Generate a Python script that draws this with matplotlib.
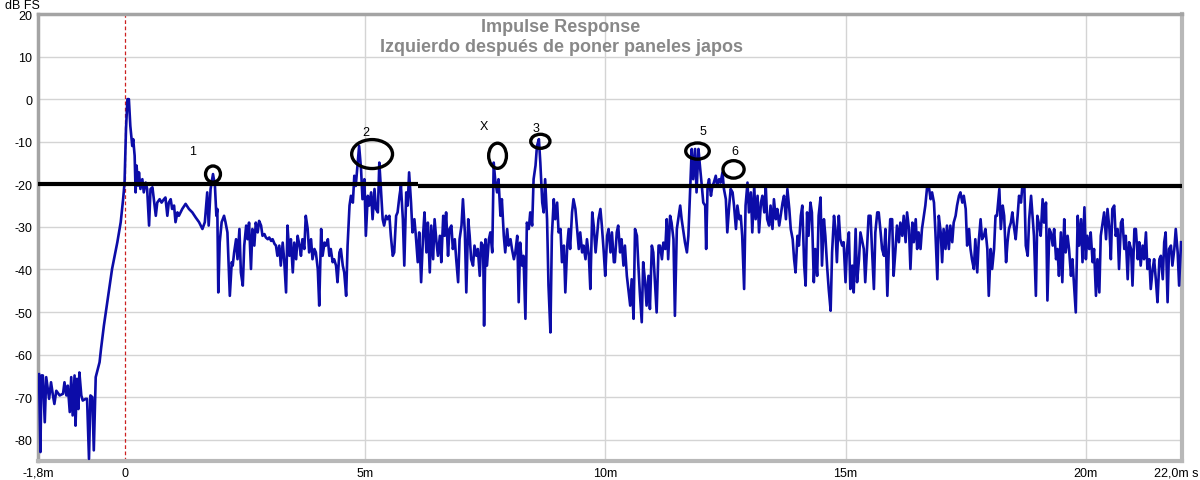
import numpy as np
import matplotlib
matplotlib.use("Agg")
import matplotlib.pyplot as plt
from matplotlib.patches import Ellipse
from matplotlib.transforms import ScaledTranslation

# ---------------- DATA ----------------
# time in ms, level in dB FS
t_early = [-1.78, -1.75, -1.73, -1.70, -1.66, -1.63, -1.57, -1.53, -1.49, -1.46,
           -1.42, -1.35, -1.28, -1.25, -1.21, -1.18, -1.14, -1.11, -1.08, -1.04,
           -1.02, -0.99, -0.96, -0.94, -0.90, -0.87, -0.81, -0.78, -0.74, -0.71,
           -0.67, -0.64, -0.61, -0.60, -0.52, -0.49, -0.43, -0.38, -0.35, -0.26,
           -0.15, -0.08, -0.03, 0.00, 0.03, 0.06, 0.09, 0.12, 0.16, 0.18,
           0.21, 0.23, 0.25, 0.28, 0.30, 0.33, 0.37, 0.40, 0.44, 0.47,
           0.51, 0.54, 0.58, 0.61, 0.65, 0.68, 0.73, 0.77, 0.82, 0.85,
           0.89, 0.92, 0.96, 0.99, 1.03, 1.06, 1.10, 1.13, 1.20, 1.27,
           1.34, 1.41, 1.48, 1.55, 1.62, 1.67, 1.72, 1.75, 1.79, 1.84,
           1.88, 1.91, 1.93, 1.95, 1.98, 2.02, 2.07, 2.10, 2.14, 2.19, 2.23]
db_early = [-64.6, -82.9, -64.9, -64.9, -75.9, -65.3, -70.4, -66.5, -69.6, -71.6,
            -68.5, -69.6, -69.2, -66.5, -69.6, -67.3, -73.5, -65.3, -74.3, -64.9,
            -76.7, -65.7, -72.8, -64.2, -69.6, -70.8, -70.4, -70.4, -84.5, -69.6,
            -70.0, -82.5, -69.6, -65.3, -61.8, -58.7, -53.2, -49.3, -46.9, -39.9,
            -33.6, -28.9, -23.5, -19.6, -7.0, 0.0, 0.0, -6.3, -11.0, -9.4,
            -13.3, -21.9, -15.6, -20.3, -17.2, -21.1, -18.8, -21.9, -19.6, -21.1,
            -29.7, -21.1, -20.7, -23.5, -27.4, -24.3, -23.5, -24.3, -23.5, -23.1,
            -27.4, -24.3, -23.5, -25.8, -25.0, -28.9, -26.6, -27.4, -25.8, -24.6,
            -25.8, -26.6, -27.8, -28.9, -30.5, -28.9, -21.9, -29.7, -21.1, -17.6,
            -20.3, -27.4, -25.8, -45.4, -33.6, -28.9, -27.4, -28.9, -31.3, -46.2, -38.3]

t_refl2 = [2.25, 2.28, 2.32, 2.35, 2.39, 2.42, 2.46, 2.49, 2.53, 2.56,
           2.59, 2.63, 2.66, 2.70, 2.73, 2.77, 2.80, 2.84, 2.87, 2.91,
           2.94, 2.98, 3.01, 3.05, 3.08, 3.12, 3.15, 3.18, 3.22, 3.25,
           3.29, 3.32, 3.36, 3.39, 3.43, 3.46, 3.50, 3.53, 3.57, 3.60,
           3.64, 3.67, 3.70, 3.74, 3.77, 3.81, 3.84, 3.88, 3.91, 3.95,
           3.98, 4.02, 4.05, 4.09, 4.12, 4.16, 4.19, 4.23, 4.26, 4.29,
           4.33, 4.36, 4.40, 4.43, 4.47, 4.50, 4.54, 4.57, 4.61, 4.64,
           4.68, 4.71, 4.75, 4.78, 4.81, 4.85, 4.88, 4.92, 4.95, 4.99,
           5.02, 5.06, 5.09, 5.13, 5.16, 5.20, 5.23, 5.27, 5.30, 5.33,
           5.37, 5.40, 5.44, 5.47, 5.51, 5.54, 5.58, 5.61, 5.65, 5.68,
           5.72, 5.75, 5.79, 5.82, 5.86, 5.89, 5.92, 5.96, 5.99, 6.03,
           6.06, 6.10, 6.13, 6.17, 6.20]
db_refl2 = [-39.1, -36.0, -32.9, -37.6, -30.5, -40.7, -43.8, -34.4, -29.7, -32.9,
            -29.0, -39.9, -30.5, -34.4, -29.0, -31.3, -28.6, -29.7, -32.1, -31.7,
            -32.5, -32.9, -32.5, -33.3, -32.9, -34.0, -34.4, -36.8, -34.4, -39.1,
            -33.7, -37.6, -45.4, -29.7, -36.8, -32.9, -40.7, -33.7, -37.6, -32.1,
            -34.4, -36.8, -32.9, -35.2, -27.4, -30.5, -36.0, -32.9, -37.6, -35.2,
            -36.0, -39.9, -48.5, -30.5, -36.8, -33.7, -34.4, -32.9, -36.8, -35.2,
            -38.3, -37.6, -39.1, -43.0, -36.0, -35.2, -39.1, -40.7, -46.2, -34.4,
            -25.0, -22.7, -24.3, -18.0, -20.4, -14.9, -11.0, -16.4, -23.5, -18.8,
            -32.1, -22.7, -25.0, -21.9, -28.2, -21.1, -25.8, -26.6, -14.9, -20.4,
            -28.2, -29.7, -27.4, -28.2, -27.4, -32.1, -36.8, -36.0, -27.4, -26.6,
            -22.7, -20.4, -28.2, -39.1, -21.9, -25.0, -17.2, -24.3, -31.3, -28.2,
            -32.1, -38.3, -31.3, -43.0, -34.4]

t_refl3 = [6.21, 6.24, 6.28, 6.31, 6.35, 6.38, 6.42, 6.45, 6.49, 6.52,
           6.56, 6.59, 6.63, 6.66, 6.69, 6.73, 6.76, 6.80, 6.83, 6.87,
           6.90, 6.94, 6.97, 7.01, 7.04, 7.08, 7.11, 7.15, 7.18, 7.21,
           7.25, 7.28, 7.32, 7.35, 7.39, 7.42, 7.46, 7.48, 7.51, 7.54,
           7.58, 7.61, 7.65, 7.68, 7.71, 7.75, 7.78, 7.82, 7.85, 7.89,
           7.92, 7.96, 7.99, 8.03, 8.06, 8.10, 8.13, 8.17, 8.20, 8.23,
           8.27, 8.30, 8.34, 8.37, 8.41, 8.44, 8.48, 8.51, 8.55, 8.58,
           8.62, 8.65, 8.69, 8.72, 8.75, 8.79, 8.82, 8.86, 8.89, 8.93,
           8.96, 9.00, 9.03, 9.07, 9.10, 9.14, 9.17, 9.21, 9.24, 9.27,
           9.31, 9.34, 9.38, 9.41, 9.45, 9.48, 9.52, 9.55, 9.59, 9.62,
           9.66, 9.69, 9.73, 9.76, 9.80, 9.83, 9.86, 9.90, 9.93, 9.97,
           10.00, 10.04, 10.07, 10.11, 10.14, 10.18]
db_refl3 = [-32.1, -26.6, -36.0, -29.0, -40.7, -29.7, -37.6, -28.2, -33.7, -36.8,
            -32.1, -38.3, -27.4, -32.1, -26.6, -36.8, -30.5, -29.7, -35.2, -32.9,
            -37.6, -43.0, -32.9, -29.7, -23.5, -31.3, -45.4, -28.2, -32.1, -37.6,
            -39.1, -34.4, -36.8, -35.2, -41.5, -33.7, -34.4, -53.2, -32.9, -39.1,
            -32.9, -31.3, -36.0, -14.9, -18.8, -21.9, -18.8, -27.4, -23.5, -32.1,
            -36.0, -30.5, -34.4, -32.9, -35.2, -37.6, -36.0, -32.1, -47.7, -33.7,
            -39.1, -36.8, -51.6, -29.0, -30.5, -26.6, -29.7, -18.8, -15.6, -11.0,
            -9.4, -14.9, -24.3, -26.6, -18.8, -28.2, -43.8, -54.8, -32.1, -23.5,
            -28.2, -24.3, -31.3, -30.5, -38.3, -34.4, -45.4, -34.4, -30.5, -35.2,
            -26.6, -23.5, -25.8, -29.7, -35.2, -31.3, -36.0, -34.4, -37.6, -32.9,
            -36.8, -44.6, -26.6, -29.7, -36.0, -32.1, -28.2, -25.8, -29.7, -36.0,
            -41.5, -32.1, -30.5, -36.0, -31.3, -38.3]

t_refl5 = [10.20, 10.24, 10.27, 10.31, 10.34, 10.38, 10.41, 10.45, 10.48, 10.52,
           10.55, 10.59, 10.62, 10.66, 10.69, 10.72, 10.76, 10.79, 10.83, 10.86,
           10.90, 10.93, 10.97, 11.00, 11.04, 11.07, 11.11, 11.14, 11.18, 11.21,
           11.25, 11.28, 11.31, 11.35, 11.38, 11.42, 11.45, 11.49, 11.52, 11.56,
           11.59, 11.63, 11.66, 11.70, 11.73, 11.77, 11.80, 11.83, 11.87, 11.90,
           11.94, 11.97, 12.01, 12.04, 12.08, 12.10, 12.13, 12.16, 12.20, 12.23,
           12.26, 12.30, 12.33, 12.37, 12.40, 12.44, 12.47, 12.51, 12.54, 12.58,
           12.61, 12.65, 12.68, 12.72, 12.75, 12.79, 12.82, 12.85, 12.89, 12.92,
           12.96, 12.99, 13.03, 13.06, 13.10, 13.13, 13.17, 13.20, 13.24, 13.27,
           13.31, 13.34, 13.37, 13.41, 13.44, 13.48, 13.51, 13.55, 13.58, 13.62,
           13.65, 13.69, 13.72, 13.76, 13.79, 13.83, 13.86, 13.90, 13.93, 13.96,
           14.00, 14.03, 14.07, 14.10, 14.14, 14.17]
db_refl5 = [-38.3, -31.3, -29.7, -36.0, -32.9, -39.1, -34.4, -41.5, -44.6, -48.5,
            -42.3, -51.6, -30.5, -32.1, -39.1, -45.4, -52.4, -38.3, -43.0, -48.5,
            -41.5, -49.3, -34.4, -36.0, -43.8, -50.1, -34.4, -34.4, -37.6, -33.7,
            -35.2, -28.2, -37.6, -27.4, -29.0, -32.9, -50.9, -30.5, -28.2, -25.0,
            -28.2, -31.3, -33.7, -36.0, -32.1, -20.4, -11.7, -18.8, -11.7, -21.9,
            -11.7, -15.6, -20.4, -24.3, -25.0, -35.2, -20.4, -18.8, -22.7, -20.4,
            -19.6, -18.0, -20.4, -18.8, -19.6, -17.2, -21.1, -23.5, -31.3, -25.0,
            -21.1, -21.9, -25.0, -30.5, -25.0, -28.2, -27.4, -32.1, -44.6, -25.0,
            -19.6, -26.6, -21.9, -31.3, -20.4, -28.2, -22.7, -31.3, -24.3, -22.7,
            -26.6, -20.4, -28.2, -29.7, -25.0, -30.5, -23.5, -28.2, -25.8, -29.7,
            -27.4, -24.3, -22.7, -28.2, -21.1, -25.8, -30.5, -32.9, -37.6, -40.7,
            -32.1, -34.4, -27.4, -25.0, -39.1, -43.8]

t_tail1 = [14.20, 14.23, 14.27, 14.30, 14.34, 14.37, 14.41, 14.44, 14.48, 14.51,
           14.55, 14.58, 14.62, 14.65, 14.69, 14.72, 14.76, 14.79, 14.82, 14.86,
           14.89, 14.93, 14.96, 15.00, 15.03, 15.07, 15.10, 15.14, 15.17, 15.21,
           15.24, 15.28, 15.31, 15.35, 15.38, 15.41, 15.45, 15.48, 15.52, 15.55,
           15.59, 15.62, 15.66, 15.69, 15.73, 15.76, 15.80, 15.83, 15.87, 15.90,
           15.93, 15.97, 16.00, 16.04, 16.07, 16.11, 16.14, 16.18, 16.21, 16.25,
           16.28, 16.32, 16.35, 16.39, 16.42, 16.46, 16.49, 16.52, 16.56, 16.59,
           16.63, 16.66, 16.70, 16.73, 16.77, 16.80, 16.84, 16.87, 16.91, 16.94,
           16.98, 17.01, 17.04, 17.08, 17.11, 17.15, 17.18, 17.22, 17.25, 17.29,
           17.32, 17.36, 17.39, 17.43, 17.46, 17.50, 17.53, 17.57, 17.60, 17.63,
           17.67, 17.70, 17.74, 17.77, 17.81, 17.84, 17.88, 17.91, 17.95, 17.98,
           18.02, 18.05, 18.09, 18.12, 18.15]
db_tail1 = [-26.6, -32.1, -24.3, -26.6, -43.0, -35.2, -41.5, -27.4, -23.1, -39.1,
            -28.2, -32.1, -39.9, -44.6, -49.7, -36.0, -27.4, -30.5, -38.3, -27.4,
            -32.9, -34.4, -33.6, -43.0, -35.2, -31.3, -44.6, -39.1, -45.4, -30.5,
            -43.0, -37.6, -31.3, -33.6, -35.2, -43.0, -34.4, -27.4, -27.4, -35.2,
            -44.6, -31.3, -26.6, -26.6, -31.3, -35.2, -36.8, -30.5, -46.2, -35.2,
            -28.2, -28.2, -41.5, -35.2, -29.7, -33.6, -29.0, -32.1, -27.4, -33.6,
            -26.6, -30.5, -39.9, -29.0, -33.6, -28.2, -35.2, -31.3, -35.2, -30.5,
            -27.4, -25.0, -20.3, -20.3, -23.5, -21.9, -24.3, -31.3, -42.3, -27.4,
            -31.3, -38.3, -30.5, -35.2, -29.7, -35.2, -29.7, -33.6, -29.0, -27.4,
            -25.0, -22.7, -21.9, -24.3, -22.7, -25.8, -34.4, -30.5, -35.2, -37.6,
            -39.9, -32.9, -40.7, -33.6, -28.2, -32.9, -32.1, -30.5, -35.2, -46.2,
            -35.2, -39.9, -35.2, -27.4, -27.4]

t_tail2 = [18.20, 18.23, 18.27, 18.30, 18.34, 18.37, 18.40, 18.44, 18.47, 18.51,
           18.54, 18.58, 18.61, 18.65, 18.68, 18.72, 18.75, 18.79, 18.82, 18.86,
           18.89, 18.92, 18.96, 18.99, 19.03, 19.06, 19.10, 19.13, 19.17, 19.20,
           19.24, 19.27, 19.31, 19.34, 19.38, 19.41, 19.44, 19.48, 19.51, 19.55,
           19.58, 19.62, 19.65, 19.69, 19.72, 19.76, 19.79, 19.83, 19.86, 19.90,
           19.93, 19.97, 20.00, 20.03, 20.07, 20.10, 20.14, 20.17, 20.21, 20.24,
           20.28, 20.31, 20.35, 20.38, 20.42, 20.45, 20.49, 20.52, 20.55, 20.59,
           20.62, 20.66, 20.69, 20.73, 20.76, 20.80, 20.83, 20.87, 20.90, 20.94,
           20.97, 21.01, 21.04, 21.08, 21.11, 21.14, 21.18, 21.21, 21.25, 21.28,
           21.32, 21.35, 21.39, 21.42, 21.46, 21.49, 21.53, 21.56, 21.60, 21.63,
           21.66, 21.70, 21.73, 21.77, 21.80, 21.84, 21.87, 21.91, 21.94, 21.98]
db_tail2 = [-21.1, -30.5, -25.0, -27.4, -38.3, -33.6, -30.5, -29.0, -26.6, -30.5,
            -32.9, -27.4, -22.7, -24.3, -20.3, -20.3, -34.4, -36.8, -28.2, -22.7,
            -27.4, -32.1, -46.2, -27.4, -29.7, -32.1, -23.5, -29.0, -24.3, -47.3,
            -30.5, -31.3, -34.4, -30.5, -37.6, -35.2, -41.5, -31.3, -43.0, -28.2,
            -36.0, -32.1, -35.2, -41.5, -37.6, -44.6, -50.1, -27.4, -34.4, -28.2,
            -38.3, -25.4, -37.6, -32.1, -35.2, -31.3, -38.3, -35.2, -46.2, -37.6,
            -45.4, -32.1, -29.0, -26.6, -32.9, -25.8, -30.5, -37.6, -25.8, -25.0,
            -32.1, -30.5, -39.9, -29.0, -28.2, -35.2, -32.1, -42.3, -33.6, -35.2,
            -43.8, -30.5, -30.5, -37.6, -33.6, -39.1, -34.4, -37.6, -31.3, -39.9,
            -37.6, -44.6, -39.9, -37.6, -43.0, -47.7, -37.6, -36.8, -42.3, -33.6,
            -31.3, -47.7, -35.2, -34.4, -39.1, -35.2, -30.5, -36.0, -43.8, -33.6]

# hand-drawn -20 dB reference line: (start ms, end ms, level dB)
ref_segments = [(-1.8, 6.1, -20.0), (6.1, 14.1, -20.35), (14.1, 22.0, -20.5)]

# hand-drawn marks: label, label pos (ms, dB), ellipse centre (ms, dB), width ms, height dB
mark_labels = ["1", "2", "X", "3", "5", "6"]
mark_label_t = [1.42, 5.01, 7.48, 8.55, 12.04, 12.70]
mark_label_db = [-12.2, -7.8, -6.4, -6.7, -7.4, -12.1]
ring_t = [1.84, 5.15, 7.76, 8.65, 11.92, 12.67]
ring_db = [-17.6, -12.9, -13.3, -9.9, -12.2, -16.5]
ring_w = [0.31, 0.85, 0.37, 0.40, 0.49, 0.44]
ring_h = [3.8, 6.8, 5.9, 3.3, 3.8, 4.1]

x_ticks = [-1.8, 0, 5, 10, 15, 20, 22]
x_ticklabels = ["-1,8m", "0", "5m", "10m", "15m", "20m", "22,0m s"]
y_ticks = [20, 10, 0, -10, -20, -30, -40, -50, -60, -70, -80]
# --------------------------------------

plt.rcParams["font.family"] = ["Liberation Sans", "DejaVu Sans"]
plt.rcParams["axes.unicode_minus"] = False

t = np.concatenate([t_early, t_refl2, t_refl3, t_refl5, t_tail1, t_tail2])
db = np.concatenate([db_early, db_refl2, db_refl3, db_refl5, db_tail1, db_tail2])

fig = plt.figure(figsize=(12, 4.81), dpi=100)
ax = fig.add_axes([0.0317, 0.0395, 0.9533, 0.9293])

ax.set_xlim(-1.8, 22.0)
ax.set_ylim(-85, 20)

# grid
for v in [5, 10, 15, 20]:
    ax.axvline(v, color="#d4d4d4", lw=1.0, zorder=0)
for v in y_ticks:
    ax.axhline(v, color="#d4d4d4", lw=1.0, zorder=0)
ax.axvline(0, color="#cc2020", lw=0.9, ls=(0, (3, 2)), zorder=1)

ax.plot(t, db, color="#0c0ca8", lw=1.9, zorder=3)

for t0, t1, lvl in ref_segments:
    ax.plot([t0, t1], [lvl, lvl], color="black", lw=3.0, solid_capstyle="butt", zorder=4)

for lab, lt, ld, rt, rd, rw, rh in zip(mark_labels, mark_label_t, mark_label_db,
                                       ring_t, ring_db, ring_w, ring_h):
    ax.add_patch(Ellipse((rt, rd), rw, rh, fill=False, ec="black", lw=2.4, zorder=5))
    ax.text(lt, ld, lab, fontsize=9, ha="center", va="center", color="black")

fig.text(561 / 1200, 1 - 19 / 481, "Impulse Response\nIzquierdo después de poner paneles japos",
         ha="center", va="top", fontsize=13, fontweight="bold",
         color="#888888", linespacing=1.25)

ax.set_xticks(x_ticks)
ax.set_xticklabels(x_ticklabels)
ax.set_yticks(y_ticks)
ax.tick_params(length=0, labelsize=9, colors="black", pad=4)

# last label ("22,0m s") sits flush with the right edge of the image
last = ax.get_xticklabels()[-1]
last.set_ha("right")
last.set_transform(last.get_transform() + ScaledTranslation(0.165, 0, fig.dpi_scale_trans))

fig.text(5 / 1200, 1 - 6 / 481, "dB FS", fontsize=9, ha="left", va="center")

for side in ["top", "left"]:
    ax.spines[side].set_color("#a4a4a4")
    ax.spines[side].set_linewidth(2.5)
for side in ["right", "bottom"]:
    ax.spines[side].set_color("#b8b8b8")
    ax.spines[side].set_linewidth(3.0)

fig.savefig("out.png", dpi=100)
